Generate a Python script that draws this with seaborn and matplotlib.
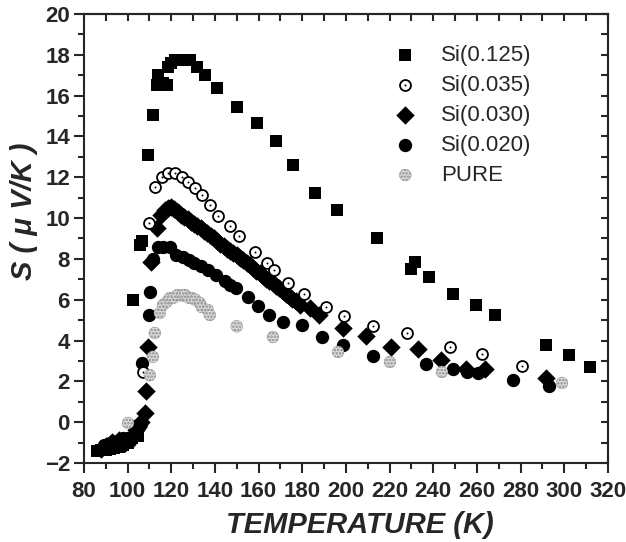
import numpy as np
import pandas as pd
import matplotlib
matplotlib.use('Agg')
import matplotlib.pyplot as plt
import seaborn as sns
from matplotlib.legend_handler import HandlerTuple
from matplotlib.ticker import MultipleLocator

# --- data (T in K, S in uV/K) ---
t_125 = [86, 88, 90, 92, 94, 96, 98, 100, 102, 104, 105, 102.4, 105.6, 106.5, 109.3, 111.6,
         113.4, 113.9, 116.2, 118, 118.5, 120, 121.7, 123.5, 125.4, 127, 128.6, 131.8,
         135.4, 141, 150, 159.2, 168, 175.7, 185.8, 195.9, 214.2, 229.8, 231.6, 238,
         249, 259.6, 268.3, 291.6, 302.2, 311.8]
s_125 = [-1.4, -1.38, -1.35, -1.3, -1.25, -1.2, -1.1, -1.0, -0.8, -0.5, -0.7, 6.0, 8.68, 8.9, 13.1, 15.05,
         16.5, 17.0, 16.6, 16.5, 17.4, 17.6, 17.75, 17.75, 17.75, 17.75, 17.75, 17.4,
         17.0, 16.37, 15.44, 14.66, 13.8, 12.6, 11.23, 10.4, 9.02, 7.5, 7.85, 7.1,
         6.28, 5.72, 5.25, 3.78, 3.29, 2.7]

t_035 = [107, 109.8, 112.5, 115.7, 118.5, 121.7, 124.9, 127.6, 130.8,
         134, 137.7, 141.6, 146.9, 151, 158.3, 163.8, 167, 173.4, 180.8, 190.9, 199.1,
         212.4, 228, 247.7, 262.3, 280.6]
s_035 = [2.46, 9.76, 11.5, 12.0, 12.2, 12.2, 12.0, 11.77, 11.47,
         11.13, 10.64, 10.12, 9.6, 9.12, 8.34, 7.8, 7.46, 6.82, 6.28, 5.64, 5.2,
         4.7, 4.37, 3.68, 3.34, 2.75]

t_030 = [88, 90, 93, 96, 99, 102, 104, 106, 107.9, 108.4, 109.3, 110.8,
         113.4, 115.5, 117, 118.5, 120, 121.5, 123, 124.5, 126, 127.5, 129, 130.5, 132,
         133.5, 135, 136.5, 138, 139.5, 141, 142.5, 144, 145.5, 147, 148.5, 150, 151.5,
         153, 154.5, 156, 157.5, 159, 160.5, 162, 163.5, 165, 166.5, 168, 169.5, 171,
         172.5, 174, 175.5, 177, 179, 183.5, 187.7, 198.6, 209.2, 220.6, 233, 243.5,
         255, 263.7, 291.6]
s_030 = [-1.3, -1.15, -0.95, -0.85, -1.0, -0.8, -0.4, 0.0, 0.45, 1.55, 3.7, 7.85,
         9.5, 10.15, 10.4, 10.5, 10.55, 10.45, 10.3, 10.15, 10.05, 9.95, 9.8, 9.7, 9.6,
         9.5, 9.38, 9.25, 9.12, 9.0, 8.88, 8.75, 8.63, 8.5, 8.4, 8.28, 8.17, 8.05,
         7.93, 7.82, 7.7, 7.57, 7.43, 7.3, 7.17, 7.03, 6.93, 6.8, 6.67, 6.55, 6.42,
         6.3, 6.17, 6.05, 5.93, 5.74, 5.6, 5.25, 4.6, 4.2, 3.7, 3.6, 3.05,
         2.6, 2.6, 2.16]

t_020 = [89, 92, 95, 98, 101, 103.5, 104, 106, 106.6, 109.8, 110.2, 111.6, 114, 116.2, 119.4,
         122, 125.4, 128, 130.5, 133.5, 136.8, 140.5, 144.6, 147, 149.5, 155.1, 159.7,
         164.7, 171.2, 179.9, 189, 198.6, 212.4, 236.7, 249, 255.4, 260.5, 276.5, 293]
s_020 = [-1.1, -1.0, -0.9, -0.8, -0.9, -0.2, -0.5, -0.1, 2.9, 5.25, 6.38, 8.0, 8.6, 8.6, 8.6,
         8.2, 8.1, 7.95, 7.8, 7.65, 7.46, 7.2, 6.9, 6.7, 6.55, 6.13, 5.69,
         5.25, 4.9, 4.76, 4.17, 3.8, 3.24, 2.85, 2.6, 2.46, 2.41, 2.07, 1.75]

t_pure = [100.2, 110.2, 111.6, 112.5, 114.8, 116.2, 118, 119.4, 121, 123, 125,
          126.3, 128, 129.5, 131, 133.1, 134, 136.8, 137.7, 150, 166.6, 196.4, 220.2,
          244, 299]
s_pure = [-0.04, 2.3, 3.2, 4.37, 5.35, 5.74, 5.9, 6.08, 6.1, 6.23, 6.2,
          6.23, 6.1, 6.08, 6.0, 5.84, 5.64, 5.5, 5.25, 4.7, 4.17, 3.44, 2.95,
          2.46, 1.92]

labels = ['Si(0.125)', 'Si(0.035)', 'Si(0.030)', 'Si(0.020)', 'PURE']

sns.set_style('ticks')
plt.rcParams['font.family'] = ['Liberation Sans', 'DejaVu Sans']
plt.rcParams['hatch.linewidth'] = 1.2

fig = plt.figure(figsize=(6.26, 5.42), dpi=100)
ax = fig.add_axes([0.134, 0.1458, 0.837, 0.8284])

df = lambda t, s: pd.DataFrame({'T': t, 'S': s})

sns.scatterplot(data=df(t_125, s_125), x='T', y='S', marker='s', s=82, color='black',
                edgecolor='black', linewidth=0, ax=ax, legend=False, zorder=3)
h_125 = ax.collections[-1]
sns.scatterplot(data=df(t_030, s_030), x='T', y='S', marker='D', s=88, color='black',
                edgecolor='black', linewidth=0, ax=ax, legend=False, zorder=3)
h_030 = ax.collections[-1]
sns.scatterplot(data=df(t_020, s_020), x='T', y='S', marker='o', s=92, color='black',
                edgecolor='black', linewidth=0, ax=ax, legend=False, zorder=3)
h_020 = ax.collections[-1]
sns.scatterplot(data=df(t_035, s_035), x='T', y='S', marker='o', s=62, facecolor='white',
                edgecolor='black', linewidth=1.3, ax=ax, legend=False, zorder=4)
h_035a = ax.collections[-1]
sns.scatterplot(data=df(t_035, s_035), x='T', y='S', marker='o', s=2, color='black',
                edgecolor='black', linewidth=0, ax=ax, legend=False, zorder=4)
h_035b = ax.collections[-1]
sns.scatterplot(data=df(t_pure, s_pure), x='T', y='S', marker='o', s=72, facecolor='#dcdcdc',
                edgecolor='#8a8a8a', hatch='.....', linewidth=0.3, ax=ax, legend=False, zorder=5)
h_pure = ax.collections[-1]

ax.set_xlim(80, 320)
ax.set_ylim(-2, 20)
ax.xaxis.set_major_locator(MultipleLocator(20))
ax.xaxis.set_minor_locator(MultipleLocator(10))
ax.yaxis.set_major_locator(MultipleLocator(2))
ax.yaxis.set_minor_locator(MultipleLocator(1))
ax.tick_params(which='major', direction='out', length=7, width=1.5, labelsize=16)
ax.tick_params(which='minor', direction='out', length=4.5, width=1.5)
ax.tick_params(axis='x', which='major', pad=6)
ax.tick_params(axis='y', which='major', pad=3)
for lab in ax.get_xticklabels() + ax.get_yticklabels():
    lab.set_fontweight('bold')
for sp in ax.spines.values():
    sp.set_visible(True)
    sp.set_linewidth(1.5)

# mirror axes with inward ticks, as in the original
sec_y = ax.secondary_yaxis('right')
sec_y.yaxis.set_major_locator(MultipleLocator(1))
sec_y.tick_params(direction='in', length=5, width=1.5, labelright=False)
sec_y.spines['right'].set_linewidth(1.5)
sec_x = ax.secondary_xaxis('top')
sec_x.xaxis.set_major_locator(MultipleLocator(10))
sec_x.tick_params(direction='in', length=5, width=1.5, labeltop=False)
sec_x.spines['top'].set_linewidth(1.5)

ax.set_xlabel('TEMPERATURE (K)', fontsize=21, fontweight='bold', fontstyle='italic')
ax.set_ylabel('S ( \u03bc V/K )', fontsize=21, fontweight='bold', fontstyle='italic')
ax.xaxis.set_label_coords(0.527, -0.108)
ax.yaxis.set_label_coords(-0.088, 0.56)

ax.legend(handles=[h_125, (h_035a, h_035b), h_030, h_020, h_pure], labels=labels,
          handler_map={tuple: HandlerTuple(ndivide=1, pad=0)},
          loc='upper left', bbox_to_anchor=(0.571, 0.955), frameon=False, fontsize=16,
          scatterpoints=1, handlelength=1.0, handletextpad=1.1, labelspacing=0.4,
          borderpad=0)

plt.savefig('out.png', dpi=100)
